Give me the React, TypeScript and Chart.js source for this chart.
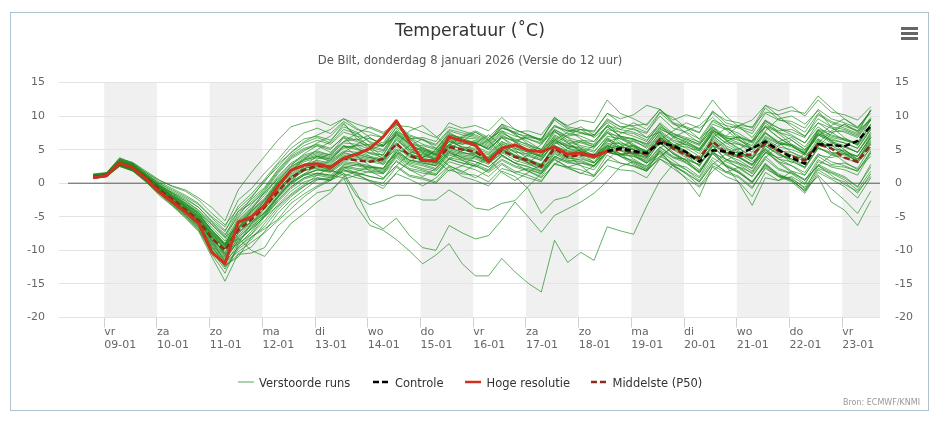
import React, { useEffect, useRef } from 'react';
import { Chart, registerables } from 'chart.js';

Chart.register(...registerables);

// ---------- texts ----------
const TITLE = 'Temperatuur (˚C)';
const SUBTITLE = 'De Bilt, donderdag 8 januari 2026 (Versie do 12 uur)';
const CREDITS = 'Bron: ECMWF/KNMI';
const LEGEND_MEMBERS = 'Verstoorde runs';
const LEGEND_CONTROL = 'Controle';
const LEGEND_HRES = 'Hoge resolutie';
const LEGEND_P50 = 'Middelste (P50)';

// ---------- axes ----------
// x values are hours relative to vr 09-01 00:00 (local time)
const DAY_NAMES = ['vr', 'za', 'zo', 'ma', 'di', 'wo', 'do', 'vr', 'za', 'zo', 'ma', 'di', 'wo', 'do', 'vr'];
const DAY_DATES = ['09-01', '10-01', '11-01', '12-01', '13-01', '14-01', '15-01', '16-01', '17-01', '18-01', '19-01', '20-01', '21-01', '22-01', '23-01'];
const Y_TICKS = [-20, -15, -10, -5, 0, 5, 10, 15];
const X_MIN_HOUR = -20.6;
const X_MAX_HOUR = 353.2;
const FIRST_HOUR = -5; // do 08-01 19:00
const STEP_HOURS = 6;
const ZERO_LINE_HOURS = [-16.5, X_MAX_HOUR];

// ---------- series ----------
const HRES = [0.8, 1.1, 3.0, 2.3, 0.6, -1.3, -2.8, -4.3, -6.0, -10.3, -12.0, -5.8, -5.0, -3.3, -0.5, 1.9, 2.7,
  2.9, 2.3, 3.7, 4.3, 5.2, 6.9, 9.3, 6.2, 3.4, 3.3, 6.9, 6.3, 5.7, 3.2, 5.2, 5.7, 4.9, 4.7, 5.4, 4.3, 4.5, 3.9, 4.8];

const CONTROL_FROM_INDEX = 39;
const CONTROL = [4.8, 5.2, 4.8, 4.5, 6.0, 5.6, 4.6, 3.2, 4.9, 4.7, 4.3, 5.2, 6.2, 5.0, 3.8, 2.9, 5.8, 5.7, 5.5, 6.3, 8.5];

const P50 = [0.9, 1.2, 2.9, 2.3, 0.8, -0.9, -2.4, -3.9, -5.6, -8.2, -10.0, -7.0, -5.4, -3.6, -1.3, 0.8, 2.0,
  2.6, 2.4, 3.7, 3.4, 3.2, 3.6, 5.9, 4.1, 3.4, 3.4, 5.4, 5.0, 4.7, 3.4, 4.9, 3.9, 3.4, 2.5, 5.2, 3.9,
  4.2, 4.2, 4.7, 5.0, 4.6, 4.4, 6.5, 5.2, 4.2, 3.8, 6.2, 4.6, 4.0, 4.3, 5.9, 4.8, 4.0, 3.4, 5.8, 5.2, 3.8, 3.2, 5.7];

const MEMBERS: number[][] = [
  [0.8, 1.1, 3.2, 2.5, 0.6, -1.2, -2.6, -4.1, -5.8, -9.5, -11.8, -6.0, -5.2, -3.0, 0.2, 2.5, 3.5, 4.0, 3.6, 5.5, 5.0, 4.6, 4.2, 7.5, 5.6, 5.0, 4.4, 6.8, 6.0, 5.5, 4.6, 7.2, 6.1, 5.0, 4.0, 6.6, 5.2, 4.8, 3.9, 6.2, 6.8, 6.5, 5.9, 8.2, 7.0, 6.0, 5.1, 8.0, 6.5, 5.8, 4.6, 7.4, 6.0, 5.4, 4.5, 7.9, 7.2, 6.6, 6.0, 9.5],
  [0.9, 1.3, 2.7, 2.0, 0.3, -1.5, -3.0, -4.6, -6.4, -9.8, -12.5, -9.5, -8.0, -6.5, -4.0, -2.0, -0.5, 0.8, 0.5, 1.8, 1.5, 1.0, 0.6, 3.4, 2.0, 1.5, 1.2, 3.2, 2.6, 2.0, 1.0, 2.8, 1.5, 0.8, 0.2, 3.0, 2.2, 1.5, 1.0, 3.5, 3.0, 2.5, 1.8, 4.0, 3.0, 2.0, 0.8, 3.8, 2.5, 1.5, 0.2, 2.6, 1.2, 0.6, -0.6, 2.2, 1.5, 0.5, -1.0, 1.8],
  [1.2, 1.5, 3.8, 3.0, 1.6, 0.2, -0.8, -1.8, -3.0, -5.0, -6.5, -2.5, -0.8, 1.5, 3.5, 5.8, 7.5, 8.2, 7.4, 9.2, 8.0, 7.6, 6.8, 9.0, 7.2, 6.5, 5.8, 8.0, 7.5, 7.0, 6.2, 8.8, 8.0, 7.2, 6.5, 9.8, 8.2, 7.5, 7.0, 9.6, 8.4, 8.0, 7.4, 10.5, 8.8, 8.2, 7.5, 10.8, 9.0, 8.4, 7.8, 11.2, 9.5, 8.8, 7.6, 10.4, 9.2, 8.5, 7.8, 10.8],
  [0.9, 1.2, 3.0, 2.4, 0.9, -0.6, -2.0, -3.5, -5.0, -7.5, -9.6, -6.5, -4.8, -3.2, -1.0, 1.2, 2.4, 3.0, 2.6, 4.0, 4.4, 3.8, 3.5, 6.4, 4.8, 4.0, 3.6, 5.8, 5.0, 4.5, 3.6, 5.4, 4.2, 3.6, 2.8, 5.6, 4.8, 4.8, 4.0, 5.8, 6.0, 5.5, 4.6, 7.2, 5.8, 4.8, 3.5, 6.8, 5.2, 4.4, 3.6, 6.5, 5.0, 4.2, 3.2, 6.0, 5.6, 4.6, 4.0, 6.8],
  [0.7, 1.0, 2.6, 1.8, 0.2, -1.8, -3.4, -5.2, -7.2, -11.0, -14.6, -10.5, -9.5, -7.2, -4.5, -2.5, -1.0, 0.5, 0.8, 2.2, 2.8, 2.4, 2.0, 4.8, 3.5, 3.0, 2.6, 4.6, 3.8, 3.2, 2.4, 4.2, 3.0, 2.5, 1.6, 4.4, 3.4, 3.2, 2.6, 5.2, 5.5, 5.0, 4.0, 6.8, 5.4, 4.2, 2.5, 5.5, 3.5, 2.8, 1.4, 4.0, 2.2, 1.5, 0.4, 3.5, 2.4, 2.0, 1.2, 4.5],
  [1.4, 1.6, 3.6, 3.1, 1.8, 0.5, -0.5, -1.2, -2.5, -4.5, -6.2, -3.8, -2.0, 0.2, 2.8, 4.5, 6.0, 6.8, 6.0, 8.0, 7.4, 6.2, 5.5, 8.4, 6.8, 5.8, 5.2, 7.4, 6.6, 6.0, 5.0, 7.0, 6.2, 5.4, 4.6, 7.6, 6.8, 6.2, 5.8, 8.6, 7.6, 7.0, 6.2, 9.0, 7.4, 6.4, 5.6, 8.2, 6.8, 6.0, 5.0, 7.5, 6.2, 5.6, 4.4, 7.4, 6.6, 6.0, 5.2, 8.0],
  [1.0, 1.3, 3.1, 2.6, 1.2, -0.4, -1.8, -3.0, -4.6, -7.0, -9.0, -5.5, -3.6, -1.5, 1.0, 3.0, 4.2, 4.8, 4.2, 6.0, 5.8, 5.0, 4.6, 7.4, 5.4, 4.8, 4.2, 6.6, 5.8, 6.2, 5.4, 7.6, 6.4, 5.8, 5.0, 8.0, 7.0, 7.4, 7.0, 9.0, 6.8, 5.6, 4.0, 6.2, 4.4, 3.0, 1.8, 4.4, 2.6, 1.6, 0.2, 2.8, 1.4, 0.5, -1.2, 2.0, 0.8, 0.2, -1.5, 1.4],
  [0.8, 1.1, 2.8, 2.1, 0.5, -1.1, -2.8, -4.4, -6.0, -8.8, -11.2, -8.0, -6.4, -4.8, -2.5, -0.5, 0.8, 1.5, 1.2, 2.6, 2.2, 2.0, 1.6, 4.2, 2.8, 2.2, 1.8, 3.8, 3.4, 2.8, 2.0, 3.6, 2.6, 2.0, 1.4, 4.0, 3.2, 2.6, 2.0, 4.6, 4.2, 4.0, 3.4, 6.2, 5.6, 5.4, 4.8, 7.8, 7.0, 6.8, 6.2, 9.4, 8.2, 7.6, 6.8, 10.2, 9.0, 8.2, 7.4, 11.0],
  [1.1, 1.4, 3.3, 2.7, 1.0, -0.9, -2.4, -3.8, -5.2, -7.6, -9.8, -6.8, -5.0, -3.0, -0.8, 1.0, 2.2, 2.8, 2.6, 3.8, 4.6, 5.0, 5.8, 8.2, 6.0, 3.6, 3.0, 6.4, 5.4, 5.0, 3.8, 5.4, 4.6, 4.4, 3.6, 6.2, 4.8, 4.4, 4.0, 5.6, 5.4, 5.2, 4.6, 7.0, 5.6, 4.6, 3.4, 6.6, 5.0, 4.0, 2.8, 5.2, 3.6, 3.2, 2.4, 5.4, 4.2, 3.8, 3.0, 5.8],
  [1.0, 1.2, 3.0, 2.2, 0.6, -1.0, -2.6, -4.0, -5.8, -8.4, -10.5, -7.8, -6.0, -4.5, -2.0, 0.0, 1.2, 1.5, 1.2, 0.8, -3.5, -6.3, -7.0, -8.4, -10.1, -12.0, -10.7, -9.0, -12.0, -13.8, -13.8, -11.2, -13.2, -14.9, -16.2, -8.5, -11.8, -10.3, -11.5, -6.5, -7.1, -7.6, -3.4, 0.4, 2.8, 2.4, 1.0, 4.5, 3.6, 3.0, 2.2, 5.5, 4.4, 3.6, 2.8, 6.4, 5.2, 4.4, 3.2, 6.8],
  [0.9, 1.2, 2.9, 2.1, 0.7, -0.9, -2.4, -3.9, -5.6, -8.2, -10.2, -7.0, -5.2, -3.6, -1.2, 0.8, 2.0, 2.2, 1.8, 1.5, -1.5, -5.5, -6.8, -5.2, -7.8, -9.6, -10.0, -6.3, -7.4, -8.3, -7.8, -5.5, -2.8, -5.0, -7.3, -4.8, -3.8, -2.8, -1.5, 0.3, 2.5, 3.2, 2.0, 5.0, 3.8, 3.0, 1.5, 4.8, 3.2, 2.4, 1.0, 3.6, 2.0, 1.4, 0.0, 2.8, 1.8, 1.0, -0.5, 2.4],
  [1.1, 1.3, 3.1, 2.4, 0.9, -0.7, -2.2, -3.6, -5.3, -7.8, -9.8, -6.8, -5.0, -3.2, -1.0, 1.0, 2.2, 2.6, 2.0, 1.2, -2.0, -3.2, -2.6, -1.8, -1.8, -2.5, -2.5, -1.0, -2.2, -3.7, -4.0, -3.0, -2.6, -0.5, 1.5, 3.5, 2.4, 2.0, 1.2, 4.2, 3.0, 2.6, 1.8, 4.8, 3.4, 2.0, 0.4, 3.4, 1.6, 0.8, -0.8, 2.4, 1.0, 0.4, -1.0, 2.6, 1.6, 0.8, -0.6, 2.8],
  [0.8, 1.0, 2.7, 2.0, 0.4, -1.3, -2.9, -4.4, -6.2, -9.0, -11.4, -8.6, -6.8, -5.0, -2.8, -0.8, 0.6, 1.2, 0.8, 2.0, 1.6, 1.0, 0.6, 2.6, 1.2, 0.8, 0.2, 2.4, 1.0, 0.4, -0.4, 1.8, 1.0, -0.8, -4.5, -2.5, -2.0, -0.8, 0.5, 2.6, 2.0, 1.8, 0.8, 3.6, 2.6, 1.6, 0.2, 3.0, 1.8, 1.0, -0.6, 2.2, 1.0, 0.2, -1.5, 1.6, 0.6, -0.5, -2.2, 0.8],
  [1.0, 1.2, 2.8, 2.2, 0.7, -0.9, -2.5, -4.0, -5.7, -8.5, -10.8, -7.5, -5.8, -4.2, -1.8, 0.2, 1.4, 2.0, 1.8, 3.2, 3.0, 2.6, 2.2, 5.0, 3.4, 3.0, 2.6, 4.8, 3.8, 3.6, 2.8, 4.6, 3.4, 2.8, 2.2, 4.8, 3.8, 3.4, 2.6, 4.8, 4.4, 4.0, 3.0, 5.4, 4.0, 3.2, 1.6, 4.4, 2.6, 1.6, 0.0, 2.8, 1.0, 0.8, -0.8, 1.0, -2.8, -4.0, -6.3, -2.6],
  [1.0, 1.2, 3.0, 2.3, 0.8, -0.8, -2.2, -3.6, -5.2, -7.8, -9.6, -6.4, -4.6, -2.8, -0.4, 1.6, 2.8, 3.4, 3.0, 4.6, 4.0, 3.6, 3.2, 6.0, 4.2, 3.8, 3.2, 5.4, 4.6, 4.2, 3.4, 5.2, 4.0, 3.4, 2.6, 5.4, 4.4, 4.0, 3.2, 5.6, 5.0, 4.4, 3.6, 6.0, 4.4, 3.4, 2.0, 4.6, 2.8, 1.8, 0.2, 3.0, 1.2, 0.4, -1.2, 1.2, -0.8, -2.5, -4.5, -1.2],
  [1.2, 1.4, 3.4, 2.8, 1.3, -0.2, -1.4, -2.6, -4.0, -6.0, -7.8, -4.2, -2.4, -0.6, 2.0, 4.2, 5.6, 6.4, 5.8, 7.6, 7.0, 6.6, 6.0, 8.8, 7.0, 6.4, 5.6, 7.8, 7.2, 6.8, 6.0, 8.4, 7.4, 7.0, 6.4, 9.6, 8.6, 9.4, 9.0, 12.4, 10.4, 9.6, 8.6, 11.0, 9.0, 8.4, 7.6, 10.6, 9.4, 9.0, 8.2, 11.6, 10.8, 11.4, 10.0, 12.4, 10.6, 10.2, 9.4, 11.4],
  [0.9, 1.2, 3.0, 2.5, 1.0, -0.5, -2.0, -3.3, -4.8, -7.2, -9.2, -6.0, -4.2, -2.4, 0.2, 2.2, 3.6, 4.2, 3.8, 5.4, 5.6, 4.4, 3.8, 6.6, 5.0, 4.6, 4.0, 6.2, 5.8, 6.4, 5.6, 7.8, 7.0, 6.6, 6.0, 8.6, 7.8, 7.6, 7.2, 9.4, 8.4, 8.6, 8.8, 11.0, 9.4, 10.2, 9.6, 12.4, 10.0, 8.4, 6.8, 9.4, 7.6, 6.4, 5.0, 8.0, 7.6, 7.8, 7.0, 9.6],
  [1.0, 1.3, 3.2, 2.6, 1.1, -0.6, -2.1, -3.4, -5.0, -7.4, -9.4, -6.2, -4.4, -2.6, 0.0, 2.0, 3.2, 3.8, 3.4, 4.8, 4.6, 4.0, 3.6, 6.8, 4.6, 4.2, 3.6, 5.8, 5.0, 4.6, 3.8, 5.6, 4.8, 4.0, 3.4, 6.0, 5.6, 5.2, 4.6, 7.0, 6.6, 6.2, 5.4, 8.0, 7.2, 6.6, 5.8, 8.8, 8.0, 8.6, 8.4, 10.6, 10.2, 10.8, 10.4, 13.0, 11.2, 9.6, 8.2, 10.8],
  [1.3, 1.5, 3.5, 2.9, 1.4, 0.0, -1.2, -2.2, -3.6, -5.6, -7.2, -3.4, -1.6, 0.6, 3.0, 5.2, 6.6, 7.0, 6.4, 8.4, 7.6, 6.0, 5.4, 7.8, 6.0, 5.2, 4.6, 7.2, 6.8, 6.6, 5.8, 8.2, 7.6, 7.8, 7.2, 9.8, 8.4, 8.0, 7.6, 10.4, 9.6, 10.2, 11.6, 11.0, 9.0, 7.4, 6.0, 8.4, 6.4, 5.2, 4.0, 7.0, 6.0, 5.6, 4.4, 7.8, 6.8, 6.4, 5.8, 8.6],
  [0.7, 1.0, 2.5, 1.9, 0.4, -1.4, -3.1, -4.8, -6.8, -10.2, -12.8, -9.8, -8.4, -6.0, -3.6, -1.8, -0.4, 0.6, 0.4, 2.8, 2.6, 2.2, 1.8, 4.4, 3.0, 2.6, 2.0, 4.2, 3.6, 3.2, 2.4, 4.0, 3.0, 2.4, 1.8, 4.6, 3.6, 3.8, 3.0, 5.2, 4.4, 4.4, 3.8, 6.8, 5.0, 3.8, 2.6, 5.8, 4.2, 3.4, 2.2, 5.0, 3.6, 2.6, 1.6, 4.4, 3.2, 2.6, 1.8, 4.8],
  [1.1, 1.3, 3.4, 2.8, 1.2, -0.3, -1.6, -2.9, -4.3, -6.6, -8.6, -5.2, -3.2, -1.0, 1.6, 3.8, 5.0, 5.6, 5.0, 7.0, 6.4, 7.2, 6.8, 9.4, 6.6, 5.0, 4.4, 7.0, 6.4, 6.0, 5.2, 7.4, 6.6, 5.6, 5.0, 7.8, 6.4, 6.0, 5.4, 8.0, 7.6, 7.4, 6.4, 8.6, 6.8, 5.6, 4.4, 7.6, 6.0, 5.8, 5.2, 8.4, 7.6, 7.0, 6.0, 9.0, 8.2, 7.6, 6.8, 9.4],
  [0.8, 1.1, 2.7, 2.0, 0.4, -1.2, -2.9, -4.6, -6.6, -9.6, -12.0, -9.0, -7.6, -5.6, -3.2, -1.2, 0.2, 0.8, 0.4, 1.4, 0.8, 0.4, 0.0, 2.4, 1.0, 0.6, 0.0, 2.0, 1.4, 1.2, 0.2, 2.2, 1.6, 2.2, 1.4, 4.0, 3.2, 3.6, 3.0, 5.4, 4.0, 3.4, 2.2, 4.6, 2.8, 1.4, -0.4, 2.4, 1.0, 0.2, -2.0, 1.6, 0.4, 1.0, -0.2, 3.2, 2.6, 2.4, 1.8, 4.6],
  [1.0, 1.2, 2.9, 2.2, 0.7, -0.9, -2.5, -4.0, -5.6, -8.2, -10.4, -7.4, -5.6, -3.8, -1.4, 0.6, 1.8, 2.4, 2.0, 3.6, 3.8, 3.4, 3.0, 5.8, 4.0, 3.4, 2.8, 5.2, 4.6, 4.0, 3.2, 5.0, 4.2, 3.2, 2.6, 5.4, 4.4, 4.6, 4.2, 6.4, 5.4, 5.0, 4.2, 6.4, 5.0, 4.6, 3.6, 6.4, 4.6, 3.8, 2.8, 5.8, 4.8, 4.6, 3.8, 6.6, 5.6, 5.4, 4.6, 7.2],
  [1.2, 1.4, 3.3, 2.7, 1.1, -0.5, -1.9, -3.2, -4.7, -7.0, -9.0, -5.8, -4.0, -2.2, 0.4, 2.4, 3.8, 4.4, 4.0, 5.6, 5.2, 4.4, 4.2, 7.2, 5.2, 4.4, 3.8, 6.2, 5.4, 5.2, 4.4, 6.2, 5.4, 4.6, 4.0, 6.8, 5.6, 5.0, 4.2, 6.6, 5.8, 5.4, 4.4, 6.6, 4.6, 3.4, 1.6, 4.8, 2.6, 0.0, -3.3, 0.8, 0.4, 1.8, 1.2, 4.2, 3.8, 4.4, 4.0, 6.8],
  [0.9, 1.1, 2.8, 2.2, 0.6, -1.0, -2.6, -4.2, -5.9, -8.6, -11.0, -8.2, -6.2, -4.4, -2.0, 0.0, 1.2, 2.0, 1.6, 3.0, 2.8, 2.4, 2.2, 4.6, 3.2, 2.8, 2.2, 4.4, 4.0, 3.8, 3.0, 4.8, 3.8, 3.0, 2.4, 5.0, 4.0, 4.2, 3.6, 5.6, 4.8, 4.2, 3.0, 4.8, 2.6, 0.6, -2.0, 2.6, 1.6, 2.4, 1.6, 4.6, 3.8, 4.2, 3.6, 6.2, 5.2, 4.8, 4.0, 7.0],
  [1.1, 1.4, 3.2, 2.6, 1.0, -0.6, -2.0, -3.4, -4.9, -7.2, -9.2, -6.0, -4.2, -2.4, 0.0, 2.0, 3.4, 4.0, 3.6, 5.2, 5.6, 5.8, 5.6, 7.8, 6.6, 6.8, 6.2, 9.0, 8.2, 8.6, 7.8, 9.8, 8.0, 7.2, 6.4, 8.6, 7.4, 7.0, 6.2, 8.4, 7.0, 6.6, 5.6, 7.8, 6.4, 5.8, 4.8, 7.6, 6.6, 6.8, 6.0, 8.6, 7.8, 8.0, 7.0, 9.6, 8.4, 8.0, 7.2, 9.8],
  [1.3, 1.5, 3.7, 3.0, 1.6, 0.4, -0.4, -1.0, -2.2, -3.6, -5.6, -1.0, 1.6, 4.0, 6.4, 8.4, 9.0, 9.4, 8.6, 9.6, 8.8, 8.2, 7.4, 8.6, 8.4, 7.6, 6.8, 8.4, 7.8, 7.2, 6.4, 8.2, 7.6, 6.6, 5.8, 8.4, 7.8, 8.0, 7.8, 10.4, 9.0, 8.4, 7.6, 10.0, 8.2, 7.6, 6.6, 9.4, 8.6, 8.2, 7.4, 10.4, 9.4, 9.2, 8.2, 11.0, 9.6, 9.0, 8.2, 10.8],
  [0.8, 1.0, 2.6, 1.9, 0.3, -1.5, -3.2, -5.0, -7.0, -10.0, -12.4, -10.6, -10.4, -9.6, -6.4, -4.6, -3.0, -1.4, -1.0, 0.6, 1.2, 1.8, 1.6, 4.0, 2.6, 2.0, 1.4, 3.6, 3.0, 2.6, 1.8, 3.4, 2.4, 1.8, 1.0, 3.8, 3.0, 3.0, 2.4, 4.6, 4.2, 4.6, 3.8, 6.6, 5.4, 4.6, 3.6, 6.0, 4.4, 3.0, 1.8, 4.6, 3.2, 2.6, 1.2, 4.0, 2.8, 3.0, 2.2, 5.4],
  [1.0, 1.2, 2.9, 2.3, 0.8, -0.8, -2.4, -3.8, -5.6, -8.0, -9.8, -8.2, -10.0, -10.9, -8.5, -6.0, -4.5, -2.8, -1.4, 1.0, 1.8, 2.4, 2.2, 4.6, 3.4, 3.2, 2.6, 4.8, 4.2, 4.0, 3.2, 5.0, 4.0, 3.4, 2.8, 5.6, 4.6, 4.4, 3.8, 6.0, 5.2, 5.6, 4.8, 7.6, 6.2, 5.2, 4.0, 7.0, 5.6, 4.6, 3.6, 6.6, 5.4, 5.0, 4.2, 7.2, 6.4, 6.0, 5.2, 8.0],
  [1.2, 1.4, 3.5, 2.9, 1.3, -0.2, -1.5, -2.7, -4.1, -6.2, -8.2, -4.6, -2.8, -0.8, 1.8, 4.0, 5.2, 5.8, 5.2, 6.8, 6.2, 5.4, 4.8, 7.6, 5.8, 5.6, 5.0, 7.2, 6.6, 6.0, 5.2, 6.8, 5.6, 4.8, 4.2, 7.2, 6.2, 5.6, 5.2, 7.4, 7.0, 6.6, 5.8, 8.4, 7.4, 6.8, 6.2, 9.2, 8.2, 7.4, 6.2, 8.4, 6.8, 5.6, 4.4, 7.2, 6.0, 5.4, 4.6, 7.6],
  [0.9, 1.1, 2.8, 2.1, 0.5, -1.1, -2.7, -4.3, -6.1, -9.0, -11.6, -8.4, -6.8, -5.0, -2.6, -0.6, 0.8, 1.4, 1.0, 2.4, 2.0, 1.6, 1.4, 3.8, 2.2, 1.8, 1.2, 3.6, 3.0, 2.6, 1.6, 3.0, 1.8, 1.2, 0.4, 2.8, 2.4, 3.0, 2.6, 4.6, 4.2, 4.8, 4.0, 6.4, 5.6, 5.8, 5.0, 7.4, 6.0, 4.8, 3.6, 6.2, 4.4, 3.4, 2.2, 5.2, 4.4, 4.2, 3.4, 6.2],
  [1.0, 1.3, 3.1, 2.4, 0.9, -0.7, -2.2, -3.6, -5.2, -7.6, -9.6, -6.6, -4.8, -3.0, -0.6, 1.4, 2.6, 3.2, 2.8, 4.4, 4.2, 3.8, 3.4, 6.0, 4.4, 3.6, 3.0, 5.6, 5.2, 4.8, 4.2, 6.8, 6.4, 6.8, 6.6, 9.4, 8.0, 6.6, 5.6, 7.6, 6.2, 5.0, 4.0, 6.8, 5.6, 4.8, 3.4, 6.2, 4.4, 3.8, 2.6, 5.6, 4.2, 3.6, 2.4, 5.2, 4.6, 4.4, 3.6, 6.4],
  [0.7, 1.0, 2.5, 1.8, 0.2, -1.6, -3.3, -5.0, -7.0, -10.6, -13.4, -9.2, -7.2, -4.8, -2.2, -0.2, 1.2, 2.0, 1.8, 3.4, 3.6, 3.2, 2.8, 5.4, 3.8, 3.6, 3.0, 5.0, 4.4, 4.4, 3.6, 5.8, 5.2, 4.6, 4.0, 6.4, 5.4, 5.4, 4.8, 6.8, 5.4, 4.4, 3.2, 5.4, 3.8, 3.6, 2.8, 5.6, 4.6, 4.6, 3.8, 6.8, 5.8, 5.8, 4.8, 7.4, 6.2, 5.6, 4.6, 7.4],
  [1.1, 1.3, 3.3, 2.7, 1.1, -0.4, -1.8, -3.1, -4.6, -7.0, -9.0, -5.6, -3.8, -1.8, 0.8, 2.8, 4.0, 4.6, 4.2, 6.2, 6.6, 5.6, 5.0, 7.6, 5.8, 4.8, 4.2, 6.8, 6.2, 6.0, 5.0, 6.8, 5.2, 4.2, 3.4, 6.2, 5.8, 6.4, 6.2, 8.6, 8.0, 7.6, 6.8, 8.8, 7.0, 6.2, 5.2, 7.8, 6.8, 6.4, 5.6, 9.2, 8.2, 7.2, 6.0, 8.4, 7.0, 6.6, 5.8, 8.8],
  [0.9, 1.2, 3.1, 2.3, 0.7, -0.8, -2.2, -3.4, -5.0, -7.8, -10.8, -8.8, -6.6, -4.6, -2.2, 0.4, 2.0, 3.6, 4.4, 6.8, 5.2, 4.0, 2.8, 4.2, 5.6, 6.6, 5.2, 3.6, 4.8, 6.0, 7.2, 5.6, 4.0, 3.0, 4.6, 7.0, 6.0, 4.8, 3.0, 5.0, 7.4, 8.2, 6.8, 7.6, 5.4, 4.0, 3.2, 6.8, 8.2, 7.0, 5.2, 6.4, 4.6, 3.0, 4.4, 7.6, 6.4, 5.0, 3.4, 6.0],
  [1.0, 1.3, 2.9, 2.4, 1.0, -0.4, -1.6, -3.0, -4.4, -6.2, -8.0, -6.6, -5.0, -2.6, -0.2, 1.8, 3.6, 5.0, 6.2, 8.8, 7.0, 5.4, 4.0, 5.6, 7.8, 8.6, 7.0, 5.2, 6.2, 7.6, 6.4, 4.2, 3.0, 4.2, 5.8, 8.0, 6.8, 5.2, 4.0, 6.6, 5.0, 3.6, 2.4, 5.2, 6.8, 7.8, 8.6, 10.4, 8.6, 6.6, 5.0, 7.8, 9.6, 10.0, 8.8, 10.8, 8.4, 6.8, 5.6, 8.2],
  [0.8, 1.0, 2.6, 2.0, 0.4, -1.4, -3.0, -4.8, -6.6, -9.4, -12.2, -11.0, -8.0, -6.8, -5.4, -3.0, -1.6, -0.4, 0.6, 2.4, 1.4, 0.2, -0.8, 1.6, 3.2, 4.4, 3.4, 1.8, 2.6, 4.0, 3.6, 1.6, 0.4, 1.6, 2.8, 5.2, 4.2, 2.6, 1.0, 3.4, 5.4, 6.4, 5.2, 7.4, 5.8, 4.2, 3.4, 5.6, 3.6, 2.2, 1.0, 3.8, 5.6, 6.4, 5.0, 6.6, 4.6, 3.2, 2.0, 4.0],
  [1.2, 1.4, 3.4, 2.6, 0.9, -0.5, -1.8, -3.2, -4.4, -7.0, -9.2, -6.8, -4.0, -1.2, 1.4, 3.6, 4.8, 6.0, 7.0, 9.0, 6.6, 5.0, 3.6, 5.0, 4.4, 3.8, 5.0, 7.6, 6.4, 5.4, 6.4, 8.6, 7.2, 6.2, 5.0, 6.6, 5.2, 4.4, 5.6, 7.8, 6.6, 5.6, 4.8, 6.0, 4.4, 3.4, 2.8, 5.0, 6.2, 7.0, 6.2, 8.4, 6.8, 5.6, 4.2, 5.4, 7.4, 8.8, 7.6, 9.6],
  [1.0, 1.1, 2.9, 2.2, 0.6, -1.1, -2.6, -4.0, -5.6, -8.6, -11.6, -9.6, -7.6, -5.0, -3.4, -1.6, -0.2, 1.2, 2.4, 4.2, 3.2, 1.8, 0.8, 2.6, 4.4, 5.4, 4.2, 2.6, 1.6, 2.8, 4.0, 6.2, 5.0, 3.6, 2.2, 3.8, 5.2, 6.2, 5.4, 7.6, 5.8, 4.2, 3.0, 4.4, 2.6, 1.4, 0.2, 2.8, 4.4, 5.2, 3.8, 5.0, 3.2, 1.8, 0.4, 2.6, 4.2, 5.0, 3.6, 5.8],
  [1.1, 1.4, 3.0, 2.6, 1.1, -0.3, -1.4, -2.4, -3.6, -5.8, -7.6, -5.0, -2.2, 0.4, 2.4, 4.6, 6.2, 7.2, 8.0, 9.6, 8.2, 6.8, 5.6, 7.2, 6.0, 4.6, 3.6, 5.8, 7.0, 7.8, 6.8, 8.8, 7.4, 5.8, 4.4, 6.4, 7.6, 8.4, 7.2, 9.2, 8.0, 9.0, 8.0, 10.6, 9.8, 8.2, 6.6, 8.4, 7.0, 8.6, 9.4, 11.6, 10.0, 8.4, 7.0, 9.0, 7.6, 6.4, 5.8, 8.8],
  [0.9, 1.2, 2.8, 2.2, 0.8, -0.9, -2.6, -4.2, -5.4, -8.0, -10.6, -9.0, -6.0, -3.8, -1.6, 0.2, 1.4, 2.6, 3.4, 5.6, 4.0, 2.6, 1.4, 3.2, 2.0, 1.0, 2.2, 4.6, 3.4, 2.4, 3.8, 6.0, 4.6, 3.0, 1.8, 3.6, 2.4, 1.4, 2.6, 4.8, 4.0, 3.2, 2.6, 4.0, 5.4, 6.2, 5.0, 7.2, 5.4, 3.8, 2.8, 4.4, 6.2, 6.8, 5.4, 8.0, 6.2, 4.6, 3.2, 5.0],
  [1.0, 1.3, 3.2, 2.4, 0.8, -0.6, -2.0, -3.6, -5.4, -7.4, -9.4, -7.2, -5.8, -4.4, -2.0, 0.0, 2.6, 4.0, 3.2, 4.6, 5.8, 6.8, 5.6, 7.0, 5.0, 3.8, 4.8, 6.6, 5.2, 4.2, 3.0, 4.4, 6.0, 7.2, 6.2, 7.8, 6.0, 4.6, 3.8, 5.4, 4.0, 2.8, 1.8, 3.8, 5.6, 6.6, 5.8, 8.0, 6.4, 5.0, 6.4, 9.0, 7.4, 5.8, 4.6, 7.0, 8.6, 9.6, 8.4, 10.4],
  [0.8, 1.0, 2.7, 1.9, 0.3, -1.2, -2.8, -4.4, -6.4, -9.2, -11.8, -10.2, -8.8, -7.4, -5.6, -3.8, -2.0, -0.6, 0.4, 2.0, 1.2, 0.4, -0.4, 1.4, 0.6, -0.4, 0.8, 2.6, 1.8, 0.8, 2.0, 4.2, 3.0, 1.8, 0.8, 2.8, 4.2, 5.0, 3.8, 5.6, 4.4, 3.0, 2.0, 3.6, 2.2, 0.8, -0.6, 1.8, 3.4, 4.4, 3.2, 4.8, 3.0, 1.6, 0.6, 2.6, 1.2, -0.2, -1.2, 1.0],
  [1.2, 1.5, 3.6, 2.8, 1.4, 0.0, -1.0, -2.0, -3.2, -5.2, -7.0, -4.2, -3.0, -1.4, 0.6, 2.6, 4.4, 5.6, 4.6, 6.2, 7.4, 8.4, 7.6, 8.8, 6.8, 5.2, 4.2, 5.6, 6.8, 7.6, 6.6, 7.8, 6.2, 4.8, 3.8, 5.8, 7.2, 8.0, 6.8, 8.4, 7.0, 5.8, 4.6, 6.4, 7.8, 9.0, 8.2, 9.8, 8.0, 6.4, 5.2, 7.6, 6.0, 4.6, 3.6, 6.0, 7.8, 8.8, 7.8, 9.4],
];

// ---------- styles ----------
const MEMBER_COLOR = 'rgba(28,140,28,0.68)';
const MEMBER_LEGEND_COLOR = '#a9d3a9';
const CONTROL_COLOR = '#000000';
const HRES_COLOR = '#d0301e';
const P50_COLOR = '#8e2a1c';
const GRID_COLOR = '#e3e3e3';
const BAND_COLOR = '#f0f0f0';
const LABEL_COLOR = '#666666';
const FONT = "'DejaVu Sans', Verdana, sans-serif";

const hourAt = (i: number) => FIRST_HOUR + STEP_HOURS * i;
const toPoints = (values: number[], fromIndex = 0) => values.map((v, k) => ({ x: hourAt(fromIndex + k), y: v }));

const dayBands = {
  id: 'dayBands',
  beforeDraw(chart: any) {
    const { ctx, chartArea, scales } = chart;
    const xs = scales.x;
    ctx.save();
    ctx.fillStyle = BAND_COLOR;
    for (let d = 0; d < DAY_DATES.length; d += 2) {
      const x0 = Math.max(xs.getPixelForValue(d * 24), chartArea.left);
      const x1 = Math.min(xs.getPixelForValue((d + 1) * 24), chartArea.right);
      if (x1 > x0) ctx.fillRect(x0, chartArea.top, x1 - x0, chartArea.bottom - chartArea.top);
    }
    ctx.restore();
  },
};

export default function App() {
  const ref = useRef<HTMLCanvasElement>(null);

  useEffect(() => {
    const canvas = ref.current;
    if (!canvas) return;
    Chart.defaults.font.family = FONT;

    const memberSets = MEMBERS.map((m, idx) => ({
      label: idx === 0 ? LEGEND_MEMBERS : '',
      data: toPoints(m),
      borderColor: MEMBER_COLOR,
      borderWidth: 1,
      pointRadius: 0,
      order: 4,
    }));

    const chart = new Chart(canvas, {
      type: 'line',
      data: {
        datasets: [
          { label: LEGEND_HRES, data: toPoints(HRES), borderColor: HRES_COLOR, borderWidth: 3, pointRadius: 0, order: 0, borderJoinStyle: 'round' },
          { label: LEGEND_CONTROL, data: toPoints(CONTROL, CONTROL_FROM_INDEX), borderColor: CONTROL_COLOR, borderWidth: 2.5, borderDash: [6, 3], pointRadius: 0, order: 1 },
          { label: LEGEND_P50, data: toPoints(P50), borderColor: P50_COLOR, borderWidth: 2.5, borderDash: [6, 3], pointRadius: 0, order: 2 },
          { label: 'nul', data: ZERO_LINE_HOURS.map((h) => ({ x: h, y: 0 })), borderColor: '#5a5a5a', borderWidth: 1, pointRadius: 0, order: 3 },
          ...memberSets,
        ] as any,
      },
      options: {
        animation: false,
        responsive: false,
        maintainAspectRatio: false,
        events: [],
        layout: { padding: { top: 82.5, bottom: 64.5, left: 0, right: 0 } },
        plugins: { legend: { display: false }, tooltip: { enabled: false }, title: { display: false } },
        scales: {
          x: {
            type: 'linear',
            min: X_MIN_HOUR,
            max: X_MAX_HOUR,
            afterBuildTicks: (s: any) => { s.ticks = DAY_DATES.map((_, d) => ({ value: d * 24 })); },
            afterFit: (s: any) => { s.height = 40; },
            grid: { drawOnChartArea: false, drawTicks: true, tickLength: 10, color: '#d0d0d0', tickColor: '#d0d0d0' },
            border: { display: false },
            ticks: {
              align: 'start',
              padding: -2,
              maxRotation: 0,
              autoSkip: false,
              color: LABEL_COLOR,
              font: { family: FONT, size: 11 },
              callback: (_v: any, i: number) => [DAY_NAMES[i], DAY_DATES[i]],
            },
          },
          y: {
            position: 'left',
            min: -20,
            max: 15,
            afterBuildTicks: (s: any) => { s.ticks = Y_TICKS.map((v) => ({ value: v })); },
            afterFit: (s: any) => { s.width = 59; },
            grid: { color: GRID_COLOR, drawTicks: false },
            border: { display: false },
            ticks: { padding: 14, color: LABEL_COLOR, font: { family: FONT, size: 11 } },
          },
          y2: {
            position: 'right',
            min: -20,
            max: 15,
            afterBuildTicks: (s: any) => { s.ticks = Y_TICKS.map((v) => ({ value: v })); },
            afterFit: (s: any) => { s.width = 60; },
            grid: { drawOnChartArea: false, drawTicks: false },
            border: { display: false },
            ticks: { padding: 15, color: LABEL_COLOR, font: { family: FONT, size: 11 } },
          },
        },
      } as any,
      plugins: [dayBands],
    });
    return () => chart.destroy();
  }, []);

  const legendText: React.CSSProperties = { position: 'absolute', top: 375.5, fontSize: 11.5, lineHeight: '14px', color: '#333', whiteSpace: 'nowrap' };
  const bar: React.CSSProperties = { position: 'absolute', left: 901, width: 17, height: 3, background: '#666' };

  return (
    <div style={{ position: 'absolute', left: 0, top: 0, width: 940, height: 422, background: '#fff', overflow: 'hidden', fontFamily: FONT }}>
      <canvas ref={ref} width={940} height={422} style={{ position: 'absolute', left: 0, top: 0, width: 940, height: 422 }} />
      <div style={{ position: 'absolute', left: 10, top: 12, width: 919, height: 399, boxSizing: 'border-box', border: '1px solid #adc3cf', pointerEvents: 'none' }} />
      <div style={{ position: 'absolute', left: 0, width: 940, top: 20, textAlign: 'center', fontSize: 17.3, lineHeight: '20px', color: '#333', whiteSpace: 'nowrap' }}>{TITLE}</div>
      <div style={{ position: 'absolute', left: 0, width: 940, top: 53, textAlign: 'center', fontSize: 11.6, lineHeight: '14px', color: '#555', whiteSpace: 'nowrap' }}>{SUBTITLE}</div>
      <div style={{ ...bar, top: 27 }} />
      <div style={{ ...bar, top: 32 }} />
      <div style={{ ...bar, top: 37 }} />
      <svg width={940} height={20} style={{ position: 'absolute', left: 0, top: 372 }}>
        <line x1={238} y1={10} x2={254} y2={10} stroke={MEMBER_LEGEND_COLOR} strokeWidth={2} />
        <line x1={373} y1={10} x2={388} y2={10} stroke={CONTROL_COLOR} strokeWidth={2.5} strokeDasharray="6 3" />
        <line x1={465} y1={10} x2={481} y2={10} stroke={HRES_COLOR} strokeWidth={2.5} />
        <line x1={591} y1={10} x2={606} y2={10} stroke={P50_COLOR} strokeWidth={2.5} strokeDasharray="6 3" />
      </svg>
      <div style={{ ...legendText, left: 259 }}>{LEGEND_MEMBERS}</div>
      <div style={{ ...legendText, left: 395 }}>{LEGEND_CONTROL}</div>
      <div style={{ ...legendText, left: 486.5 }}>{LEGEND_HRES}</div>
      <div style={{ ...legendText, left: 612.5 }}>{LEGEND_P50}</div>
      <div style={{ position: 'absolute', right: 20, top: 398, fontSize: 8, lineHeight: '10px', color: '#999', whiteSpace: 'nowrap' }}>{CREDITS}</div>
    </div>
  );
}
